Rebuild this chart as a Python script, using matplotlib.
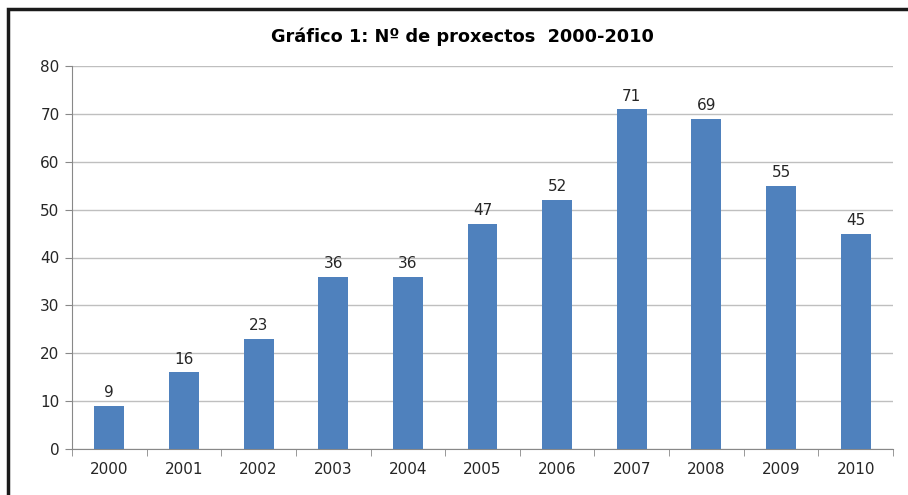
import numpy as np
import matplotlib.pyplot as plt
from matplotlib.patches import Rectangle

years = ['2000', '2001', '2002', '2003', '2004', '2005', '2006', '2007', '2008', '2009', '2010']
proxectos = [9, 16, 23, 36, 36, 47, 52, 71, 69, 55, 45]
y_ticks = [0, 10, 20, 30, 40, 50, 60, 70, 80]

fig = plt.figure(figsize=(9.08, 4.95), dpi=100)
ax = fig.add_axes([72 / 908, 1 - 449 / 495, (893 - 72) / 908, (449 - 66) / 495])

x = np.arange(len(years))
bars = ax.bar(x, proxectos, width=0.40, color='#4F81BD', zorder=3)

# value labels above each bar
for xi, v in zip(x, proxectos):
    ax.annotate(str(v), (xi, v), xytext=(0, 4), textcoords='offset points',
                ha='center', va='bottom', fontsize=11, color='#262626')

ax.set_xlim(-0.5, len(years) - 0.5)
ax.set_ylim(0, 80)
ax.set_yticks(y_ticks)
ax.set_xticks(x)
ax.set_xticklabels(years)
ax.set_xticks(np.arange(-0.5, len(years)), minor=True)
ax.tick_params(axis='x', which='major', length=0, pad=9, labelsize=11, labelcolor='#262626')
ax.tick_params(axis='x', which='minor', length=5, color='#888888', direction='out')
ax.tick_params(axis='y', length=5, color='#888888', pad=4, labelsize=11, labelcolor='#262626')
ax.yaxis.grid(True, color='#BFBFBF', linewidth=1, zorder=0)
for side in ['top', 'right']:
    ax.spines[side].set_visible(False)
for side in ['left', 'bottom']:
    ax.spines[side].set_color('#888888')

fig.text(0.509, 1 - 37 / 495, 'Gráfico 1: Nº de proxectos  2000-2010', ha='center', va='center',
         fontsize=12.8, fontweight='bold', color='black')

# outer frame, only its top and left edges are inside the picture
fig.patches.append(Rectangle((8 / 908, -0.2), 1.2, 1.2 - 9 / 495, transform=fig.transFigure,
                             fill=False, edgecolor='#1a1a1a', linewidth=2.5))

fig.savefig('out.png', dpi=100)
